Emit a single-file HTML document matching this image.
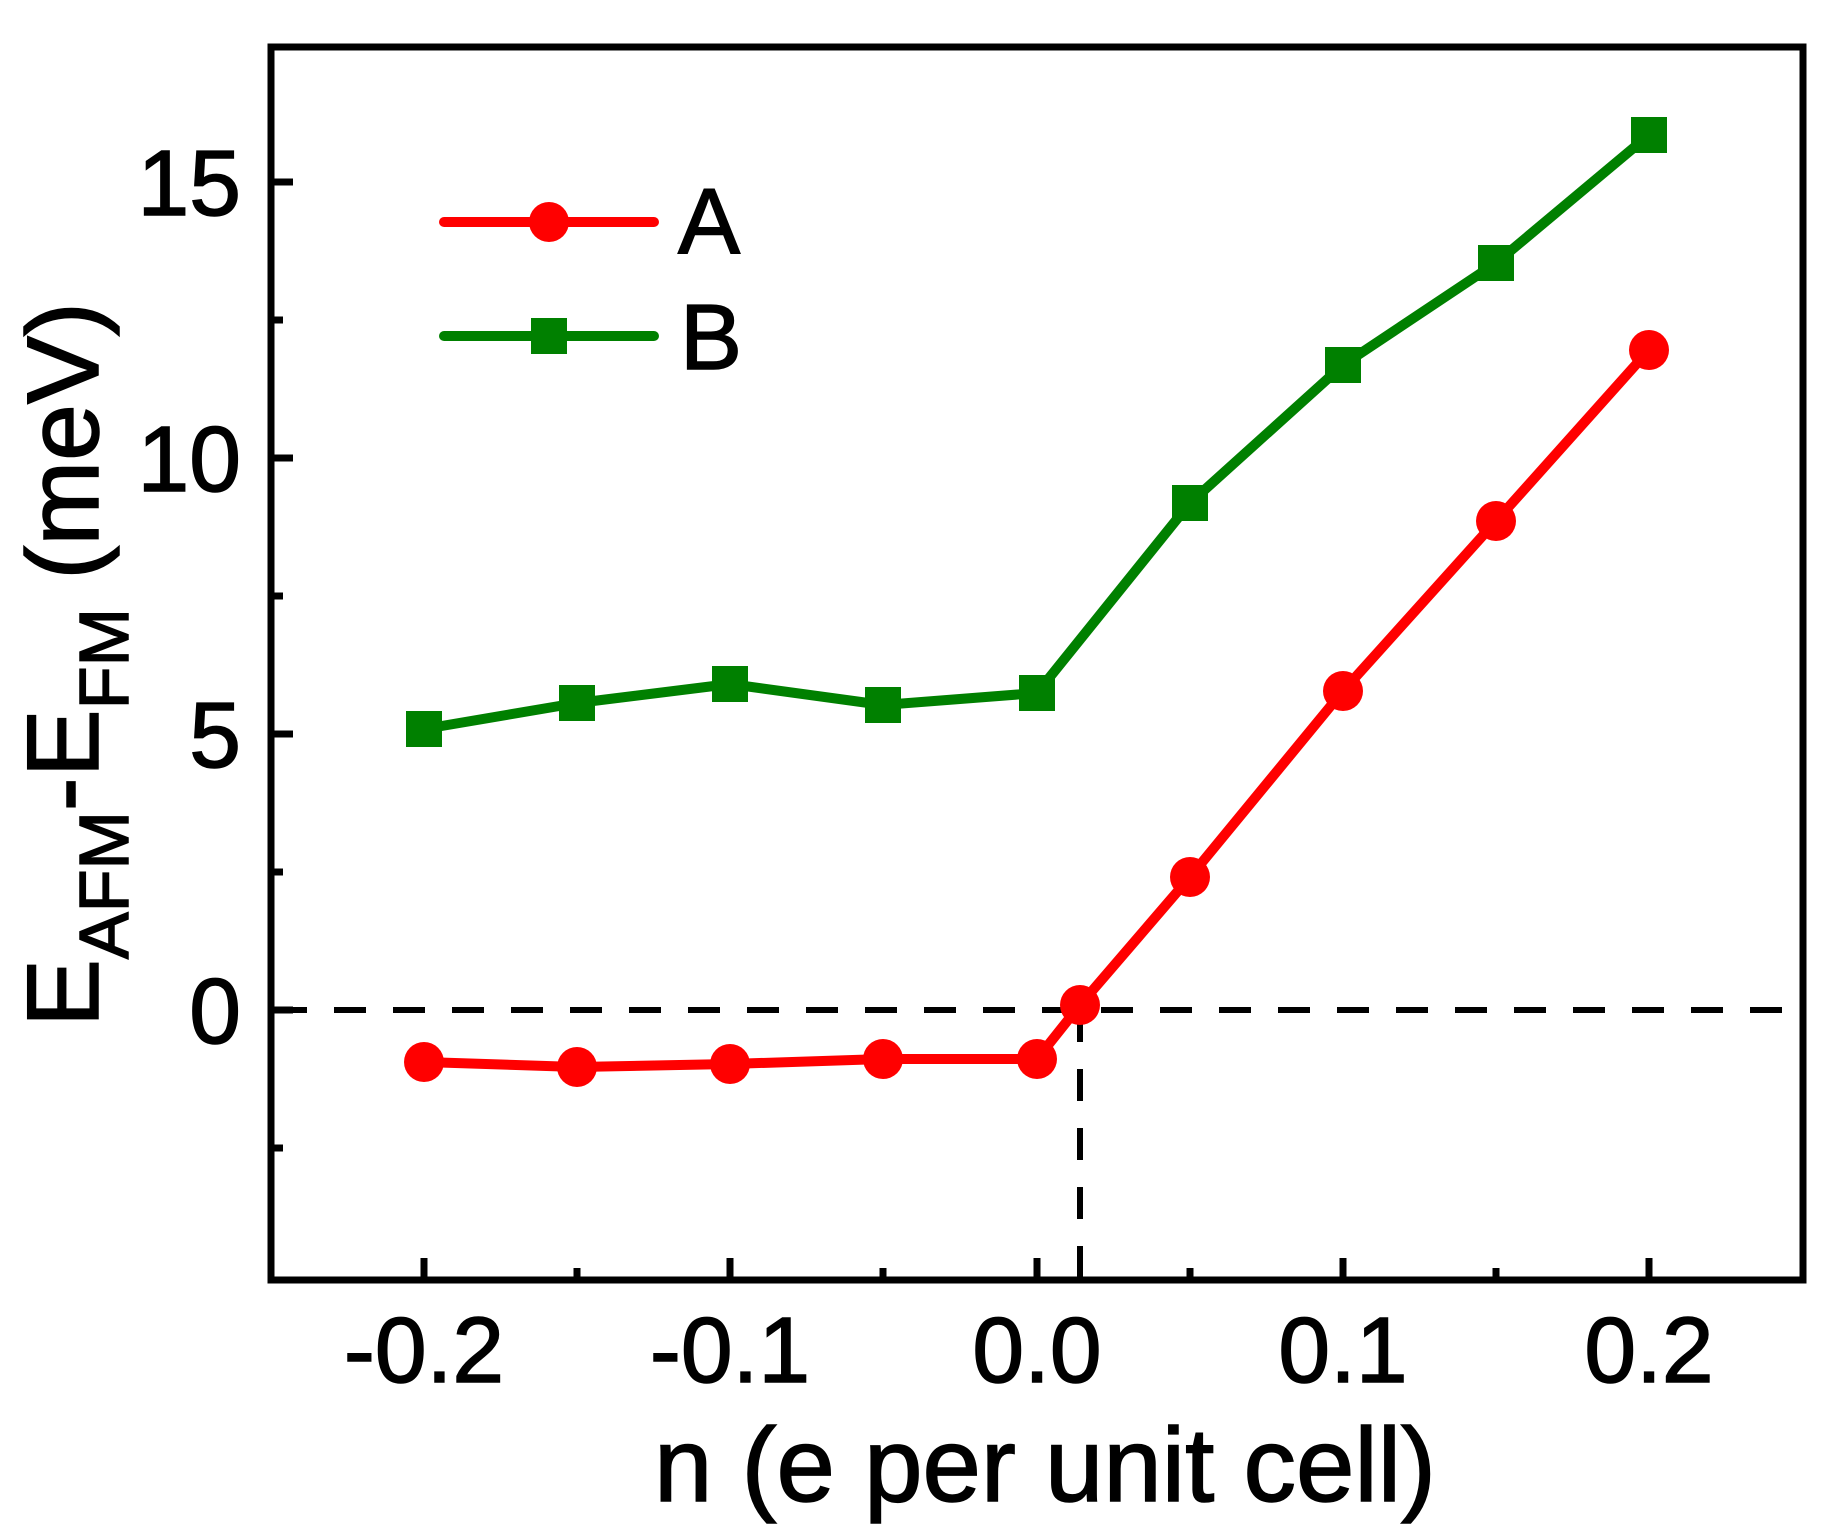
<!DOCTYPE html>
<html><head><meta charset="utf-8"><style>
html,body{margin:0;padding:0;background:#fff;}
svg{display:block;}
text{font-family:"Liberation Sans",Arial,sans-serif;fill:#000;stroke:#000;stroke-width:1.5px;}
</style></head><body>
<svg width="1844" height="1539" viewBox="0 0 1844 1539" xmlns="http://www.w3.org/2000/svg">
<line x1="275" y1="1010" x2="1800" y2="1010" stroke="#000" stroke-width="6" stroke-dasharray="32,27"/>
<line x1="1080" y1="1010" x2="1080" y2="1277" stroke="#000" stroke-width="6" stroke-dasharray="32,27"/>
<rect x="271" y="47" width="1532" height="1233" fill="none" stroke="#000" stroke-width="7"/>
<g stroke="#000" stroke-width="7">
<line x1="424" y1="1280" x2="424" y2="1258"/>
<line x1="577" y1="1280" x2="577" y2="1268"/>
<line x1="730" y1="1280" x2="730" y2="1258"/>
<line x1="883" y1="1280" x2="883" y2="1268"/>
<line x1="1037" y1="1280" x2="1037" y2="1258"/>
<line x1="1190" y1="1280" x2="1190" y2="1268"/>
<line x1="1343" y1="1280" x2="1343" y2="1258"/>
<line x1="1496" y1="1280" x2="1496" y2="1268"/>
<line x1="1649" y1="1280" x2="1649" y2="1258"/>
<line x1="271" y1="1148" x2="283" y2="1148"/>
<line x1="271" y1="1010" x2="293" y2="1010"/>
<line x1="271" y1="872" x2="283" y2="872"/>
<line x1="271" y1="734" x2="293" y2="734"/>
<line x1="271" y1="596" x2="283" y2="596"/>
<line x1="271" y1="458" x2="293" y2="458"/>
<line x1="271" y1="320" x2="283" y2="320"/>
<line x1="271" y1="182" x2="293" y2="182"/>
</g>
<g font-size="93" text-anchor="end">
<text x="241" y="1043">0</text>
<text x="241" y="767">5</text>
<text x="241" y="491">10</text>
<text x="241" y="215">15</text>
</g>
<g font-size="93" text-anchor="middle">
<text x="424" y="1382">-0.2</text>
<text x="730" y="1382">-0.1</text>
<text x="1037" y="1382">0.0</text>
<text x="1343" y="1382">0.1</text>
<text x="1649" y="1382">0.2</text>
</g>
<text x="1045" y="1501" font-size="105" text-anchor="middle">n (e per unit cell)</text>
<text transform="translate(98,1027) rotate(-90)" font-size="102">E<tspan font-size="70" dy="30">AFM</tspan><tspan dy="-30">-E</tspan><tspan font-size="70" dy="30">FM</tspan><tspan dy="-30"> (meV)</tspan></text>
<polyline fill="none" stroke="#008000" stroke-width="10" stroke-linejoin="round" points="424,729 577,703 730,684 883,705 1037,693 1190,503 1343,365 1496,263 1649,135"/>
<g fill="#008000">
<rect x="406" y="711" width="36" height="36"/>
<rect x="559" y="685" width="36" height="36"/>
<rect x="712" y="666" width="36" height="36"/>
<rect x="865" y="687" width="36" height="36"/>
<rect x="1019" y="675" width="36" height="36"/>
<rect x="1172" y="485" width="36" height="36"/>
<rect x="1325" y="347" width="36" height="36"/>
<rect x="1478" y="245" width="36" height="36"/>
<rect x="1631" y="117" width="36" height="36"/>
</g>
<polyline fill="none" stroke="#ff0000" stroke-width="10" stroke-linejoin="round" points="424,1062 577,1067 730,1064 883,1059 1037,1059 1080,1005 1190,877 1343,691 1496,521 1649,350"/>
<g fill="#ff0000">
<circle cx="424" cy="1062" r="20"/>
<circle cx="577" cy="1067" r="20"/>
<circle cx="730" cy="1064" r="20"/>
<circle cx="883" cy="1059" r="20"/>
<circle cx="1037" cy="1059" r="20"/>
<circle cx="1080" cy="1005" r="20"/>
<circle cx="1190" cy="877" r="20"/>
<circle cx="1343" cy="691" r="20"/>
<circle cx="1496" cy="521" r="20"/>
<circle cx="1649" cy="350" r="20"/>
</g>
<line x1="444" y1="222" x2="654" y2="222" stroke="#ff0000" stroke-width="10" stroke-linecap="round"/>
<circle cx="549" cy="222" r="20" fill="#ff0000"/>
<text x="678" y="253" font-size="93">A</text>
<line x1="444" y1="336" x2="654" y2="336" stroke="#008000" stroke-width="10" stroke-linecap="round"/>
<rect x="531" y="318" width="36" height="36" fill="#008000"/>
<text x="680" y="369" font-size="93">B</text>
</svg>
</body></html>
